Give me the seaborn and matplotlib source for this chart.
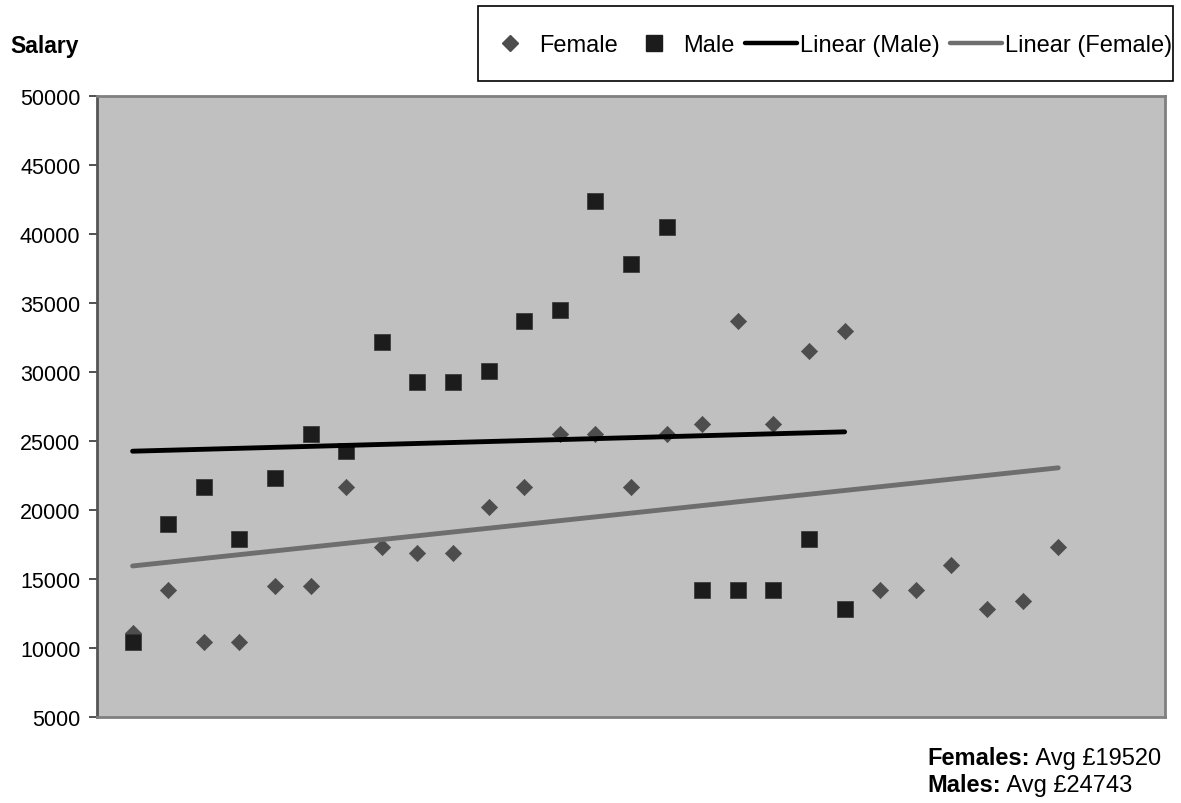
import numpy as np
import pandas as pd
import matplotlib
matplotlib.use("Agg")
import matplotlib.pyplot as plt
import seaborn as sns
from matplotlib.lines import Line2D
from matplotlib.patches import Rectangle

female_salary = [11100, 14200, 10400, 10400, 14500, 14500, 21700, 17300, 16900, 16900,
                 20200, 21700, 25500, 25500, 21700, 25500, 26200, 33700, 26200, 31500,
                 33000, 14200, 14200, 16000, 12800, 13400, 17300]
male_salary = [10400, 19000, 21700, 17900, 22300, 25500, 24300, 32200, 29300, 29300,
               30100, 33700, 34500, 42400, 37800, 40500, 14200, 14200, 14200, 17900,
               12800]
y_ticks = [5000, 10000, 15000, 20000, 25000, 30000, 35000, 40000, 45000, 50000]
legend_labels = ["Female", "Male", "Linear (Male)", "Linear (Female)"]
female_avg_label = "Avg £19520"
male_avg_label = "Avg £24743"

sns.set_style("white")
plt.rcParams['font.family'] = ['Liberation Sans', 'DejaVu Sans']
plt.rcParams['text.color'] = 'black'
plt.rcParams['ytick.color'] = 'black'
plt.rcParams['ytick.labelcolor'] = 'black'

W, H = 1181, 804
fem = pd.DataFrame({"x": np.arange(1, len(female_salary) + 1), "y": female_salary})
mal = pd.DataFrame({"x": np.arange(1, len(male_salary) + 1), "y": male_salary})

fig = plt.figure(figsize=(W / 100, H / 100), dpi=100)
ax = fig.add_axes([97 / W, 86 / H, 1068 / W, 621 / H])
ax.set_facecolor("#c0c0c0")

# linear trend lines (least squares, like the spreadsheet trendline)
fm = np.polyfit(fem["x"], fem["y"], 1)
mm = np.polyfit(mal["x"], mal["y"], 1)
fem_tr = pd.DataFrame({"x": fem["x"], "y": np.polyval(fm, fem["x"])})
mal_tr = pd.DataFrame({"x": mal["x"], "y": np.polyval(mm, mal["x"])})

sns.scatterplot(data=fem, x="x", y="y", marker="D", s=68, color="#4d4d4d",
                edgecolor="#4d4d4d", linewidth=0.5, ax=ax, zorder=3)
sns.scatterplot(data=mal, x="x", y="y", marker="s", s=128, color="#1c1c1c",
                edgecolor="#333333", linewidth=0.5, ax=ax, zorder=4)
sns.lineplot(data=mal_tr, x="x", y="y", color="black", linewidth=3.5, ax=ax,
             zorder=5, solid_capstyle="round")
sns.lineplot(data=fem_tr, x="x", y="y", color="#6e6e6e", linewidth=3.5, ax=ax,
             zorder=5, solid_capstyle="round")

ax.set_xlim(0, 30)
ax.set_ylim(5000, 50000)
ax.set_xticks([])
ax.set_yticks(y_ticks)
ax.set_yticklabels([str(t) for t in y_ticks])
ax.tick_params(axis="y", which="both", left=True, length=6, width=1.2,
               color="#333333", labelcolor="black", labelsize=15.5, pad=6)
ax.set_xlabel("")
ax.set_ylabel("")
for s in ax.spines.values():
    s.set_visible(True)
    s.set_color("#808080")
    s.set_linewidth(2)
ax.spines["left"].set_color("#555555")

fig.text(10 / W, 1 - 53 / H, "Salary", fontsize=16.5, fontweight="bold",
         va="baseline", ha="left", color="black")

# legend box
fig.patches.append(Rectangle((478 / W, 1 - 82 / H), 695 / W, 75 / H,
                             transform=fig.transFigure, facecolor="white",
                             edgecolor="black", linewidth=1.2, zorder=1))
handles = [
    Line2D([], [], marker="D", color="#4d4d4d", linestyle="none", markersize=8.3),
    Line2D([], [], marker="s", color="#1c1c1c", linestyle="none", markersize=11),
    Line2D([], [], color="black", linewidth=3.2),
    Line2D([], [], color="#6e6e6e", linewidth=3.2),
]
leg = fig.legend(handles, legend_labels, loc="center left", ncol=4,
                 bbox_to_anchor=(484 / W, 1 - 46 / H), frameon=False,
                 fontsize=17, handlelength=2.2, handletextpad=0.12,
                 columnspacing=0.45, borderpad=0, borderaxespad=0,
                 labelcolor="black")
leg.set_zorder(2)

t1 = fig.text(927 / W, 1 - 765 / H, "Females:", fontsize=17, fontweight="bold",
              va="baseline", ha="left", color="black")
ax.annotate(" " + female_avg_label, xy=(1, 0), xycoords=t1, va="bottom",
            ha="left", fontsize=17, color="black")
t2 = fig.text(927 / W, 1 - 792 / H, "Males:", fontsize=17, fontweight="bold",
              va="baseline", ha="left", color="black")
ax.annotate(" " + male_avg_label, xy=(1, 0), xycoords=t2, va="bottom",
            ha="left", fontsize=17, color="black")

fig.savefig("out.png", dpi=100)
